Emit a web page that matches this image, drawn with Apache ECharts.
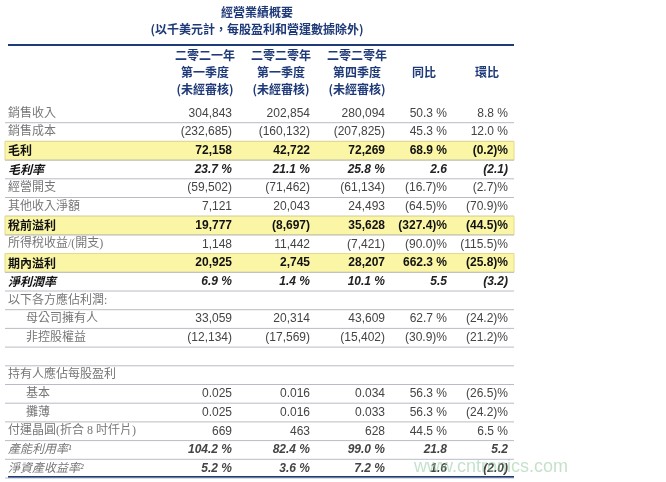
<!DOCTYPE html>
<html><head><meta charset="utf-8">
<script src="https://cdn.jsdelivr.net/npm/echarts@6/dist/echarts.min.js"></script>
<style>html,body{margin:0;padding:0;background:#fff}#c{width:666px;height:482px}</style>
</head><body><div id="c"></div>
<script>
const rowLabels = ['銷售收入','銷售成本','毛利','毛利率','經營開支','其他收入淨額','稅前溢利','所得稅收益/(開支)','期內溢利','淨利潤率','以下各方應佔利潤:','母公司擁有人','非控股權益','','持有人應佔每股盈利','基本','攤薄','付運晶圓(折合 8 吋仟片)','產能利用率¹','淨資產收益率²'];
const rowTypes = ['n','n','h','i','n','n','h','n','h','i','n','s','s','b','n','s','s','n','it','it'];
const q1_2021 = ['304,843','(232,685)','72,158','23.7 %','(59,502)','7,121','19,777','1,148','20,925','6.9 %','','33,059','(12,134)','','','0.025','0.025','669','104.2 %','5.2 %'];
const q1_2020 = ['202,854','(160,132)','42,722','21.1 %','(71,462)','20,043','(8,697)','11,442','2,745','1.4 %','','20,314','(17,569)','','','0.016','0.016','463','82.4 %','3.6 %'];
const q4_2020 = ['280,094','(207,825)','72,269','25.8 %','(61,134)','24,493','35,628','(7,421)','28,207','10.1 %','','43,609','(15,402)','','','0.034','0.033','628','99.0 %','7.2 %'];
const yoy = ['50.3 %','45.3 %','68.9 %','2.6','(16.7)%','(64.5)%','(327.4)%','(90.0)%','662.3 %','5.5','','62.7 %','(30.9)%','','','56.3 %','56.3 %','44.5 %','21.8','1.6'];
const qoq = ['8.8 %','12.0 %','(0.2)%','(2.1)','(2.7)%','(70.9)%','(44.5)%','(115.5)%','(25.8)%','(3.2)','','(24.2)%','(21.2)%','','','(26.5)%','(24.2)%','6.5 %','5.2','(2.0)'];
const headers = [['二零二一年','第一季度','(未經審核)'],['二零二零年','第一季度','(未經審核)'],['二零二零年','第四季度','(未經審核)'],['','同比',''],['','環比','']];
const title = '經營業績概要';
const subtitle = '(以千美元計，每股盈利和營運數據除外)';

const colRight = [232, 310, 385, 447, 508];
const headCenter = [205, 281, 357, 424, 487];
const cols = [q1_2021, q1_2020, q4_2020, yoy, qoq];
const navy = '#1f3a78';
const sans = 'Liberation Sans, Arial, sans-serif';
const cjkSans = 'Noto Sans CJK TC, sans-serif';
const serif = 'Liberation Serif, Noto Sans CJK TC, serif';

const chart = echarts.init(document.getElementById('c'));
const graphics = [
  {type:'text', style:{text:title, x:257, y:12, align:'center', verticalAlign:'middle', font:'bold 12px '+cjkSans, fill:navy}},
  {type:'text', style:{text:subtitle, x:257, y:29, align:'center', verticalAlign:'middle', font:'bold 12px '+cjkSans, fill:navy}},
  {type:'line', shape:{x1:8,y1:45,x2:514,y2:45}, style:{stroke:navy, lineWidth:2}},
  {type:'line', shape:{x1:8,y1:477,x2:514,y2:477}, style:{stroke:navy, lineWidth:2}},
  {type:'text', left:414, top:458, z:100, style:{text:'www.cntronics.com', font:'18px '+sans, fill:'rgba(150,200,160,0.55)'}}
];
headers.forEach((h,ci)=>{
  h.forEach((t,li)=>{ if(t) graphics.push({type:'text', style:{text:t, x:headCenter[ci], y:(ci>=3?72:[55,72,89][li]), align:'center', verticalAlign:'middle', font:'bold 12px '+cjkSans, fill:navy}}); });
});

chart.setOption({
  animation:false,
  grid:{left:0,right:0,top:104,bottom:4},
  xAxis:{type:'value',min:0,max:666,show:false},
  yAxis:{type:'category',data:rowLabels,inverse:true,show:false},
  graphic:graphics,
  series:[{
    type:'custom',
    data:rowLabels.map((l,i)=>[0,i]),
    encode:{x:0,y:1},
    renderItem:function(params, api){
      const i = api.value(1);
      const p = api.coord([0,i]);
      const h = api.size([0,1])[1];
      const y = p[1];
      const t = rowTypes[i];
      const ch = [];
      if(t==='h') ch.push({type:'rect', shape:{x:5,y:y-h/2,width:509,height:h}, style:{fill:'#fbf6a6', stroke:'#e2dc8a', lineWidth:1}});
      ch.push({type:'line', shape:{x1:5,y1:y+h/2,x2:514,y2:y+h/2}, style:{stroke:'#b9bcc6', lineWidth:1}});
      let lfont, lfill='#777', nfont='12px '+sans, nfill='#444';
      if(t==='h'){ lfont='bold 12px '+cjkSans; lfill='#111'; nfont='bold 12px '+sans; nfill='#111'; }
      else if(t==='i'){ lfont='italic bold 12px '+cjkSans; lfill='#111'; nfont='italic bold 12px '+sans; nfill='#222'; }
      else if(t==='it'){ lfont='italic 12px '+serif; lfill='#777'; nfont='italic bold 12px '+sans; nfill='#444'; }
      else { lfont='12px '+serif; }
      const lx = t==='s' ? 26 : 8;
      ch.push({type:'text', style:{text:rowLabels[i], x:lx, y:y, verticalAlign:'middle', font:lfont, fill:lfill}});
      cols.forEach((c,ci)=>{
        ch.push({type:'text', style:{text:c[i], x:colRight[ci], y:y, align:'right', verticalAlign:'middle', font:nfont, fill:nfill}});
      });
      return {type:'group', children:ch};
    }
  }]
});
</script></body></html>
